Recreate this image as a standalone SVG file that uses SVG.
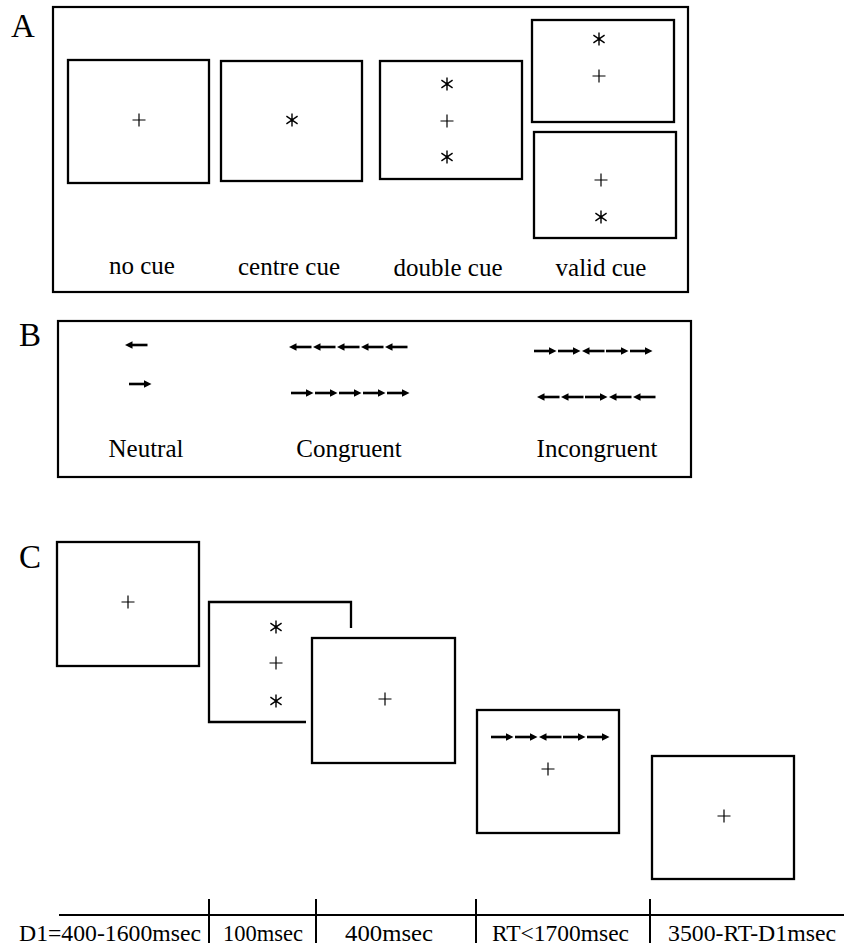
<svg xmlns="http://www.w3.org/2000/svg" xmlns:xlink="http://www.w3.org/1999/xlink" width="844" height="950" viewBox="0 0 844 950">
<style>
.box{fill:none;stroke:#000;stroke-width:2.3}
.frame{fill:none;stroke:#000;stroke-width:2.2}
.lbl{font-family:"Liberation Serif","Times New Roman",serif;font-size:25px;fill:#000;text-anchor:middle}
.big{font-family:"Liberation Serif","Times New Roman",serif;font-size:33px;fill:#000}
.tl{font-family:"Liberation Serif","Times New Roman",serif;font-size:23px;fill:#000}
.thin{stroke:#000;stroke-width:1.2;fill:none}
.st{stroke:#000;stroke-width:1.4;fill:none}
.line{stroke:#000;stroke-width:2;fill:none}
</style>
<defs>
<g id="plus"><path class="thin" d="M-6.5 0H6.5M0 -6.5V6.5"/></g>
<g id="star"><path class="st" d="M0 -6.5V6.5M-5.6 -3.8L5.6 3.8M-5.6 3.8L5.6 -3.8"/><circle r="1.5" fill="#000"/></g>
<g id="ar"><path d="M0 0H17" stroke="#000" stroke-width="2.6"/><path d="M15 -3.8L22.5 0L15 3.8Z" fill="#000"/></g>
<g id="al"><path d="M5.5 0H22.5" stroke="#000" stroke-width="2.6"/><path d="M7.5 -3.8L0 0L7.5 3.8Z" fill="#000"/></g>
</defs>
<rect width="844" height="950" fill="#fff"/>

<!-- Panel A -->
<g id="panelA">
<text class="big" x="11" y="37">A</text>
<rect class="frame" x="53" y="7" width="635" height="285"/>
<g id="a-nocue"><rect class="box" x="68" y="60" width="141" height="123"/><use xlink:href="#plus" x="139" y="120"/></g>
<g id="a-centre"><rect class="box" x="221" y="61" width="141" height="120"/><use xlink:href="#star" x="292" y="120"/></g>
<g id="a-double"><rect class="box" x="380" y="61" width="142" height="118"/><use xlink:href="#star" x="447" y="84"/><use xlink:href="#plus" x="447" y="121"/><use xlink:href="#star" x="447" y="157"/></g>
<g id="a-valid1"><rect class="box" x="532" y="20" width="142" height="102"/><use xlink:href="#star" x="599" y="39"/><use xlink:href="#plus" x="599" y="76"/></g>
<g id="a-valid2"><rect class="box" x="534" y="132" width="142" height="106"/><use xlink:href="#plus" x="601" y="180"/><use xlink:href="#star" x="601" y="217"/></g>
<text class="lbl" x="142" y="274">no cue</text>
<text class="lbl" x="289" y="275">centre cue</text>
<text class="lbl" x="448" y="276">double cue</text>
<text class="lbl" x="601" y="276">valid cue</text>
</g>

<!-- Panel B -->
<g id="panelB">
<text class="big" x="19" y="346">B</text>
<rect class="frame" x="58" y="321" width="633" height="156"/>
<g id="b-neutral"><use xlink:href="#al" x="125" y="345"/><use xlink:href="#ar" x="129" y="384"/></g>
<g id="b-congruent">
<use xlink:href="#al" x="289" y="347"/><use xlink:href="#al" x="313" y="347"/><use xlink:href="#al" x="337" y="347"/><use xlink:href="#al" x="361" y="347"/><use xlink:href="#al" x="385" y="347"/>
<use xlink:href="#ar" x="291" y="393"/><use xlink:href="#ar" x="315" y="393"/><use xlink:href="#ar" x="339" y="393"/><use xlink:href="#ar" x="363" y="393"/><use xlink:href="#ar" x="387" y="393"/>
</g>
<g id="b-incongruent">
<use xlink:href="#ar" x="534" y="351"/><use xlink:href="#ar" x="558" y="351"/><use xlink:href="#al" x="582" y="351"/><use xlink:href="#ar" x="606" y="351"/><use xlink:href="#ar" x="630" y="351"/>
<use xlink:href="#al" x="537" y="397"/><use xlink:href="#al" x="561" y="397"/><use xlink:href="#ar" x="585" y="397"/><use xlink:href="#al" x="609" y="397"/><use xlink:href="#al" x="633" y="397"/>
</g>
<text class="lbl" x="146" y="457">Neutral</text>
<text class="lbl" x="349" y="457">Congruent</text>
<text class="lbl" x="597" y="457">Incongruent</text>
</g>

<!-- Panel C -->
<g id="panelC">
<text class="big" x="19" y="568">C</text>
<g id="c-fix1"><rect class="box" x="57" y="542" width="142" height="124"/><use xlink:href="#plus" x="128" y="602"/></g>
<g id="c-cue"><path class="box" d="M306 722H209V602H351V628"/><use xlink:href="#star" x="276" y="627"/><use xlink:href="#plus" x="276" y="663"/><use xlink:href="#star" x="276" y="701"/></g>
<g id="c-fix2"><rect class="box" x="312" y="638" width="143" height="125"/><use xlink:href="#plus" x="385" y="699"/></g>
<g id="c-target"><rect class="box" x="477" y="710" width="142" height="123"/>
<use xlink:href="#ar" x="491" y="737"/><use xlink:href="#ar" x="515" y="737"/><use xlink:href="#al" x="539" y="737"/><use xlink:href="#ar" x="563" y="737"/><use xlink:href="#ar" x="587" y="737"/>
<use xlink:href="#plus" x="548" y="769"/></g>
<g id="c-fix3"><rect class="box" x="652" y="756" width="142" height="123"/><use xlink:href="#plus" x="724" y="816"/></g>
</g>

<!-- Timeline -->
<g id="connectors">
<path class="line" d="M59 915H844"/>
<path class="line" d="M209 899V943M316 899V943M476 899V943M650 899V943"/>
</g>
<g id="timeline-labels">
<text class="tl" x="19" y="941" textLength="182" lengthAdjust="spacingAndGlyphs">D1=400-1600msec</text>
<text class="tl" x="223" y="941" textLength="80" lengthAdjust="spacingAndGlyphs">100msec</text>
<text class="tl" x="345" y="941" textLength="88" lengthAdjust="spacingAndGlyphs">400msec</text>
<text class="tl" x="492" y="941" textLength="137" lengthAdjust="spacingAndGlyphs">RT&lt;1700msec</text>
<text class="tl" x="668" y="941" textLength="168" lengthAdjust="spacingAndGlyphs">3500-RT-D1msec</text>
</g>
</svg>
